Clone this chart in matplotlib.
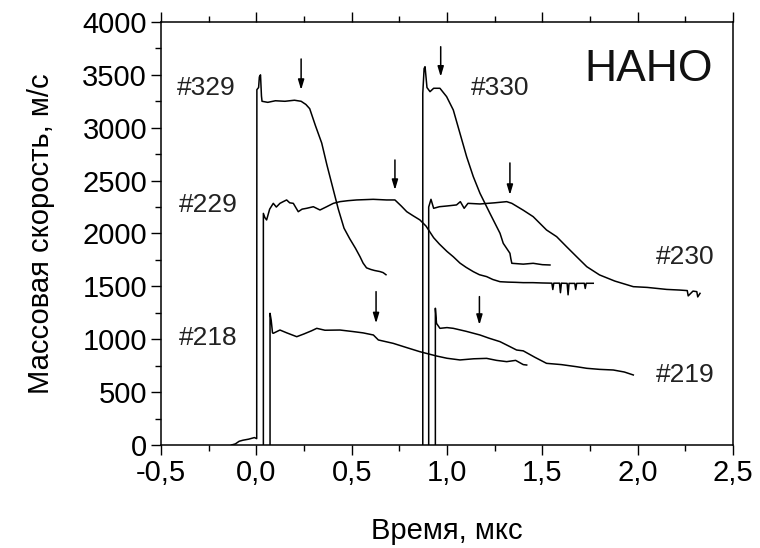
import matplotlib.pyplot as plt
from matplotlib.ticker import MultipleLocator, FuncFormatter

plt.rcParams['font.family'] = ['Liberation Sans', 'DejaVu Sans']

# Shot #329
t329 = [-0.13, -0.11, -0.09, -0.07, -0.04, -0.01, 0.002, 0.003, 0.012, 0.016, 0.022, 0.027, 0.03,
        0.06, 0.10, 0.15, 0.20, 0.235, 0.26, 0.28, 0.31, 0.343, 0.37, 0.40, 0.43, 0.46, 0.49,
        0.52, 0.544, 0.56, 0.578, 0.60, 0.62, 0.648, 0.665, 0.68]
u329 = [0, 10, 35, 45, 55, 70, 60, 3360, 3380, 3480, 3500, 3300, 3250,
        3240, 3255, 3250, 3260, 3250, 3220, 3180, 3020, 2855, 2650, 2440, 2230, 2050, 1950,
        1860, 1780, 1720, 1675, 1660, 1650, 1640, 1630, 1610]

# Shot #229
t229 = [0.037, 0.037, 0.045, 0.054, 0.07, 0.089, 0.105, 0.124, 0.14, 0.159, 0.175, 0.194, 0.22,
        0.24, 0.264, 0.299, 0.334, 0.369, 0.404, 0.439, 0.48, 0.526, 0.57, 0.613, 0.683, 0.727,
        0.76, 0.789, 0.82, 0.858, 0.89, 0.93, 0.96, 1.0, 1.033, 1.068, 1.10, 1.138, 1.17,
        1.208, 1.24, 1.278, 1.32, 1.36, 1.40, 1.45, 1.50, 1.55, 1.555, 1.56, 1.59, 1.595, 1.60,
        1.63, 1.635, 1.64, 1.67, 1.675, 1.68, 1.72, 1.725, 1.73, 1.767]
u229 = [0, 2190, 2150, 2128, 2230, 2285, 2250, 2285, 2300, 2317, 2290, 2285, 2206,
        2230, 2238, 2253, 2222, 2253, 2285, 2301, 2310, 2317, 2320, 2323, 2317, 2317,
        2260, 2206, 2170, 2128, 2070, 1960, 1900, 1830, 1780, 1720, 1680, 1639, 1610,
        1592, 1565, 1544, 1540, 1538, 1535, 1535, 1532, 1530, 1470, 1530, 1530, 1440, 1530,
        1528, 1420, 1528, 1528, 1470, 1528, 1529, 1480, 1529, 1529]

# Shot #218
t218 = [0.072, 0.072, 0.078, 0.085, 0.089, 0.124, 0.16, 0.212, 0.25, 0.29, 0.317, 0.36, 0.439,
        0.509, 0.56, 0.614, 0.64, 0.718, 0.79, 0.858, 0.946, 1.0, 1.068, 1.14, 1.208, 1.26,
        1.313, 1.36, 1.40, 1.418]
u218 = [0, 1245, 1180, 1060, 1056, 1087, 1060, 1024, 1050, 1080, 1103, 1085, 1087,
        1072, 1060, 1040, 993, 961, 920, 882, 841, 820, 804, 815, 819, 800,
        788, 800, 760, 756]

# Shot #330
t330 = [0.873, 0.873, 0.88, 0.885, 0.895, 0.911, 0.93, 0.963, 0.998, 1.033, 1.068, 1.103, 1.138,
        1.173, 1.225, 1.278, 1.295, 1.33, 1.335, 1.34, 1.40, 1.452, 1.50, 1.54]
u330 = [0, 3325, 3560, 3577, 3380, 3341, 3373, 3373, 3294, 3168, 2947, 2726, 2537,
        2380, 2191, 2002, 1907, 1813, 1760, 1718, 1710, 1718, 1705, 1702]

# Shot #230
t230 = [0.904, 0.904, 0.916, 0.93, 0.96, 1.0, 1.05, 1.07, 1.09, 1.11, 1.173, 1.25, 1.313, 1.34,
        1.40, 1.452, 1.522, 1.575, 1.627, 1.68, 1.733, 1.80, 1.88, 1.977, 2.05, 2.152, 2.22,
        2.26, 2.265, 2.29, 2.31, 2.315, 2.327]
u230 = [0, 2250, 2323, 2238, 2253, 2260, 2270, 2301, 2238, 2285, 2279, 2290, 2301, 2285,
        2220, 2159, 2033, 1970, 1875, 1780, 1686, 1608, 1550, 1497, 1490, 1471, 1465,
        1460, 1410, 1455, 1450, 1400, 1434]

# Shot #219
t219 = [0.939, 0.939, 0.945, 0.963, 1.0, 1.033, 1.10, 1.173, 1.22, 1.278, 1.33, 1.365, 1.40,
        1.46, 1.522, 1.60, 1.68, 1.733, 1.80, 1.872, 1.93, 1.977]
u219 = [0, 1293, 1150, 1103, 1110, 1103, 1075, 1040, 1010, 977, 930, 898, 890,
        830, 772, 760, 740, 725, 715, 709, 690, 662]

curves = [(t329, u329), (t229, u229), (t218, u218), (t330, u330), (t230, u230), (t219, u219)]

# arrow markers: time, tail velocity, head velocity
arrow_t = [0.235, 0.727, 0.967, 1.33, 0.628, 1.17]
arrow_top = [3650, 2695, 3766, 2667, 1450, 1403]
arrow_tip = [3357, 2411, 3482, 2364, 1150, 1135]

labels = ['#329', '#229', '#218', '#330', '#230', '#219']
label_t = [-0.26, -0.254, -0.25, 1.278, 2.25, 2.25]
label_u = [3375, 2270, 1009, 3373, 1780, 662]

fig = plt.figure(figsize=(7.6, 5.48), dpi=100)
ax = fig.add_axes([0.2118, 0.188, 0.7527, 0.7719])

for t, u in curves:
    ax.plot(t, u, color='black', lw=1.1)

for t, a, b in zip(arrow_t, arrow_top, arrow_tip):
    ax.annotate('', xy=(t, b), xytext=(t, a),
                arrowprops=dict(arrowstyle='-|>,head_width=0.18,head_length=0.6',
                                color='black', lw=1.1, shrinkA=0, shrinkB=0))

for s, t, u in zip(labels, label_t, label_u):
    ax.text(t, u, s, fontsize=19, color='#222222', ha='center', va='center')

ax.text(2.06, 3546, 'НАНО', fontsize=32, color='#111111', ha='center', va='center')

ax.set_xlim(-0.5, 2.5)
ax.set_ylim(0, 4000)
ax.xaxis.set_major_locator(MultipleLocator(0.5))
ax.xaxis.set_minor_locator(MultipleLocator(0.25))
ax.yaxis.set_major_locator(MultipleLocator(500))
ax.yaxis.set_minor_locator(MultipleLocator(250))
ax.xaxis.set_major_formatter(FuncFormatter(lambda v, p: f'{v:.1f}'.replace('.', ',')))

ax.tick_params(which='both', direction='out', top=True, right=False, width=1.0)
ax.tick_params(which='major', length=7, labelsize=21, pad=3)
ax.tick_params(which='minor', length=4)
for sp in ax.spines.values():
    sp.set_linewidth(1.1)

ax.set_xlabel('Время, мкс', fontsize=21, labelpad=22)
ax.set_ylabel('Массовая скорость, м/с', fontsize=21, labelpad=20)

fig.savefig('out.png', dpi=100)
